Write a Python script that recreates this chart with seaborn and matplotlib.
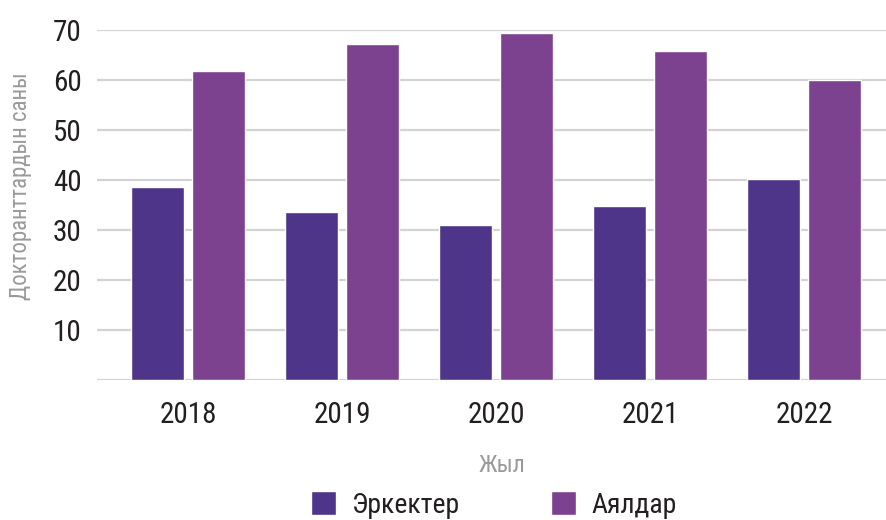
import pandas as pd
import matplotlib.pyplot as plt
import seaborn as sns

# data
years = ["2018", "2019", "2020", "2021", "2022"]
men = [38.6, 33.6, 31.0, 34.8, 40.2]
women = [61.8, 67.2, 69.4, 65.8, 60.0]
series_names = ["Эркектер", "Аялдар"]
colors = ["#4e3589", "#7d428f"]

df = pd.DataFrame({
    "year": years * 2,
    "value": men + women,
    "group": [series_names[0]] * len(years) + [series_names[1]] * len(years),
})

sns.set_theme(style="white")
plt.rcParams["font.family"] = ["Roboto Condensed", "Roboto", "DejaVu Sans"]

fig = plt.figure(figsize=(8.86, 5.2), dpi=100)
ax = fig.add_axes([97 / 886, 140 / 520, 789 / 886, 350 / 520])

sns.barplot(data=df, x="year", y="value", hue="group", palette=colors,
            width=0.8, gap=0.14, saturation=1, ax=ax, zorder=3)

ax.set_ylim(0, 70)
ax.set_xlim(-0.591, 4.532)
ax.set_yticks(range(0, 71, 10))
ax.set_yticklabels([""] + [str(v) for v in range(10, 71, 10)])
ax.yaxis.grid(True, color="#d3d3d3", linewidth=1.6, zorder=0)
ax.set_axisbelow(True)
for s in ax.spines.values():
    s.set_visible(False)
ax.tick_params(axis="both", length=0, labelsize=21, colors="#231f20")
ax.tick_params(axis="y", pad=11)
ax.tick_params(axis="x", pad=15)

ax.set_xlabel("")
ax.set_ylabel("")
fig.text(502 / 886, 1 - 466 / 520, "Жыл", fontsize=17, color="#9a9a9a",
         ha="center", va="center")
fig.text(21 / 886, 1 - 186 / 520, "Докторанттардын саны", fontsize=16.5,
         color="#9a9a9a", rotation=90, ha="center", va="center")

ax.legend(loc="center", bbox_to_anchor=(494 / 886, 15 / 520),
          bbox_transform=fig.transFigure, ncol=2, frameon=False,
          fontsize=20, handlelength=0.9, handleheight=0.9,
          columnspacing=3.3, handletextpad=0.55, labelcolor="#231f20")

fig.savefig("out.png", dpi=100)
